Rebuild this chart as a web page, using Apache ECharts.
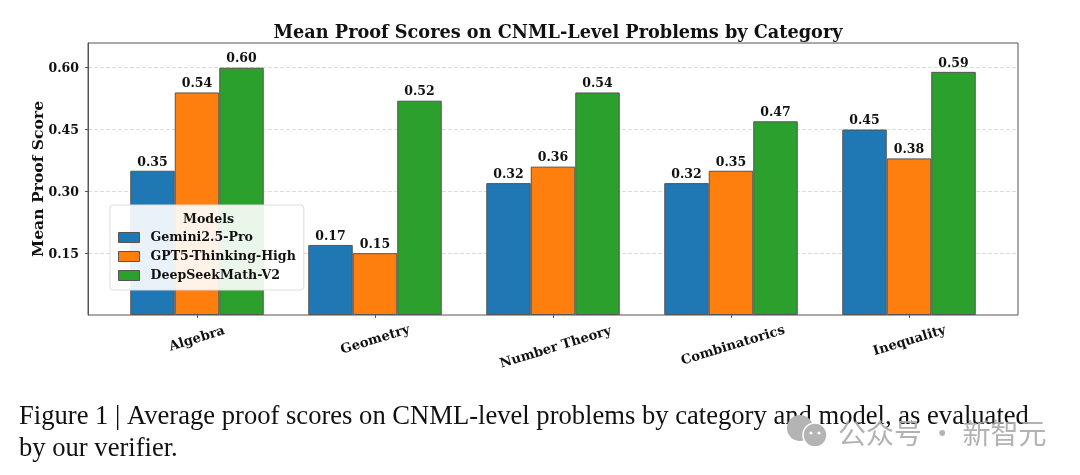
<!DOCTYPE html>
<html>
<head>
<meta charset="utf-8">
<style>html,body{margin:0;padding:0;background:#fff}#chart{width:1080px;height:475px}</style>
<script src="https://cdn.jsdelivr.net/npm/echarts@6/dist/echarts.min.js"></script>
</head>
<body>
<div id="chart"></div>
<script>
var categories = ['Algebra', 'Geometry', 'Number Theory', 'Combinatorics', 'Inequality'];
var gemini = [0.35, 0.17, 0.32, 0.32, 0.45];
var gpt5 = [0.54, 0.15, 0.36, 0.35, 0.38];
var deepseek = [0.60, 0.52, 0.54, 0.47, 0.59];
var seriesNames = ['Gemini2.5-Pro', 'GPT5-Thinking-High', 'DeepSeekMath-V2'];
var seriesColors = ['#1f77b4', '#ff7f0e', '#2ca02c'];
var yMax = 0.66;
var yStep = 0.15;
var captionLines = [
	'Figure 1 | Average proof scores on CNML-level problems by category and model, as evaluated',
	'by our verifier.'
];

var serif = '"DejaVu Serif"';
var chart = echarts.init(document.getElementById('chart'));

// longer rotated labels sit lower, the original aligns their top edges
var labelRich = {};
var labelDrop = [0, 2, 18, 14, 4];
for (var i = 0; i < categories.length; i++) {
	labelRich['c' + i] = {
		fontFamily: serif,
		fontWeight: 'bold',
		fontSize: 13.2,
		color: '#111',
		padding: [labelDrop[i], 0, 0, 0]
	};
}

function barSeries(idx, data) {
	return {
		name: seriesNames[idx],
		type: 'bar',
		xAxisIndex: 1,
		yAxisIndex: 1,
		data: data,
		barWidth: 44.5,
		barGap: 0,
		itemStyle: { color: seriesColors[idx], borderColor: '#555', borderWidth: 1 },
		label: {
			show: true,
			position: 'top',
			distance: 2,
			color: '#111',
			fontFamily: serif,
			fontWeight: 'bold',
			fontSize: 12.5,
			formatter: function (p) { return p.value.toFixed(2); }
		}
	};
}

var option = {
	backgroundColor: '#fff',
	animation: false,
	title: {
		text: 'Mean Proof Scores on CNML-Level Problems by Category',
		left: 553,
		top: 19,
		textAlign: 'center',
		textStyle: { fontFamily: serif, fontWeight: 'bold', fontSize: 17.7, color: '#111' }
	},
	// outer grid carries the frame and y axis, inner one is narrower so the bars get the wide side margins
	grid: [
		{ left: 88, right: 62, top: 43, bottom: 160, show: true, borderColor: '#555', borderWidth: 1, backgroundColor: 'transparent' },
		{ left: 108, right: 82, top: 43, bottom: 160 }
	],
	xAxis: [
		{ gridIndex: 0, type: 'category', data: categories, show: false },
		{
			gridIndex: 1,
			type: 'category',
			data: categories,
			axisLine: { show: false },
			axisTick: { show: true, alignWithLabel: true, length: 3, lineStyle: { color: '#555' } },
			axisLabel: {
				rotate: 17,
				align: 'center',
				verticalAlign: 'middle',
				margin: 24,
				interval: 0,
				formatter: function (v, i) { return '{c' + i + '|' + v + '}'; },
				rich: labelRich
			}
		}
	],
	yAxis: [
		{
			gridIndex: 0,
			type: 'value',
			min: 0,
			max: yMax,
			interval: yStep,
			name: 'Mean Proof Score',
			nameLocation: 'middle',
			nameGap: 41,
			nameMoveOverlap: false,
			nameTextStyle: { fontFamily: serif, fontWeight: 'bold', fontSize: 15.6, color: '#111' },
			axisLine: { show: true, lineStyle: { color: '#555' } },
			axisTick: { show: true, length: 3, lineStyle: { color: '#555' } },
			axisLabel: {
				showMinLabel: false,
				showMaxLabel: false,
				margin: 9,
				formatter: function (v) { return '{t|' + v.toFixed(2) + '}'; },
				rich: {
					t: { fontFamily: serif, fontWeight: 'bold', fontSize: 12.5, color: '#111', padding: [3, 0, 0, 0] }
				}
			},
			splitLine: { show: true, showMinLine: false, showMaxLine: false, lineStyle: { color: '#ddd', type: 'dashed', width: 1 } }
		},
		{ gridIndex: 1, type: 'value', min: 0, max: yMax, interval: yStep, show: false, splitLine: { show: false } }
	],
	legend: {
		left: 110,
		top: 205,
		orient: 'vertical',
		icon: 'rect',
		data: seriesNames,
		padding: [26, 8, 8, 8],
		itemWidth: 21,
		itemHeight: 10,
		itemGap: 6,
		backgroundColor: 'rgba(255,255,255,0.9)',
		borderColor: '#ddd',
		borderWidth: 1,
		borderRadius: 3,
		selectedMode: false,
		itemStyle: { borderColor: '#555', borderWidth: 1 },
		textStyle: { fontFamily: serif, fontWeight: 'bold', fontSize: 12.6, color: '#111', padding: [0, 0, 0, 6] }
	},
	series: [barSeries(0, gemini), barSeries(1, gpt5), barSeries(2, deepseek)],
	graphic: [
		{ type: 'text', z: 100, left: 183, top: 213, style: { text: 'Models', fontFamily: serif, fontWeight: 'bold', fontSize: 12.6, fill: '#111' } },
		{ type: 'text', z: 100, left: 19, top: 404, style: { text: captionLines[0], fontFamily: '"Liberation Serif"', fontSize: 26.6, fill: '#111' } },
		{ type: 'text', z: 100, left: 19, top: 436, style: { text: captionLines[1], fontFamily: '"Liberation Serif"', fontSize: 26.6, fill: '#111' } },
		// watermark
		{ type: 'circle', z: 101, shape: { cx: 800, cy: 428, r: 13 }, style: { fill: '#b4b4b4' } },
		{ type: 'circle', z: 102, shape: { cx: 815, cy: 435, r: 12 }, style: { fill: '#b4b4b4', stroke: '#fff', lineWidth: 1.5 } },
		{ type: 'circle', z: 103, shape: { cx: 811, cy: 433, r: 1.6 }, style: { fill: '#fff' } },
		{ type: 'circle', z: 103, shape: { cx: 819, cy: 433, r: 1.6 }, style: { fill: '#fff' } },
		{ type: 'text', z: 101, left: 838, top: 419, style: { text: '公众号 · 新智元', fontFamily: '"Noto Sans CJK SC"', fontSize: 28, fill: 'rgba(170,170,170,0.9)' } }
	]
};
chart.setOption(option);
</script>
</body>
</html>
